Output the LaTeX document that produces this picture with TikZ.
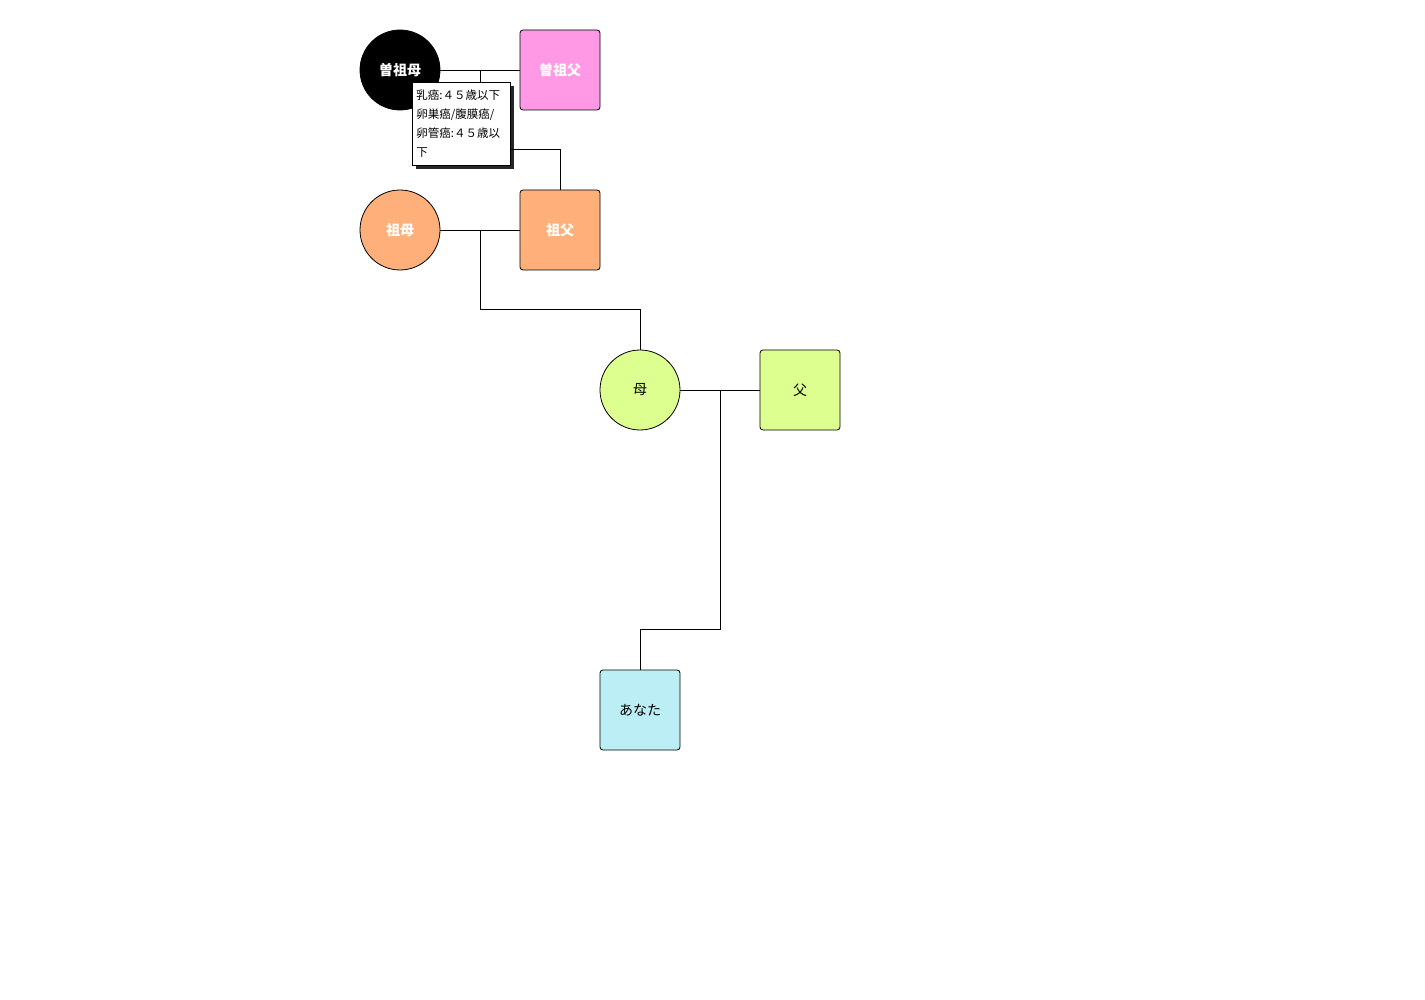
\documentclass[tikz,border=0pt]{standalone}
\usepackage{fontspec}
\setmainfont{Noto Sans CJK JP}
\usepackage{tikz}
\usetikzlibrary{positioning,calc,shadows}
\definecolor{pinkF}{RGB}{255,153,230}
\definecolor{orangeF}{RGB}{255,176,122}
\definecolor{limeF}{RGB}{221,255,143}
\definecolor{blueF}{RGB}{187,238,245}
\tikzset{
	fem/.style={circle,draw=black,line width=0.8pt,minimum size=80pt,inner sep=0pt,font=\fontsize{14}{16}\selectfont},
	male/.style={rectangle,rounded corners=3pt,draw=black,line width=0.8pt,minimum size=80pt,inner sep=0pt,font=\fontsize{14}{16}\selectfont},
	blanc/.style={text=white,font=\fontsize{14}{16}\selectfont\bfseries},
	lien/.style={line width=0.8pt},
	notebox/.style={rectangle,draw=black,fill=white,line width=0.8pt,anchor=north west,align=left,
		inner xsep=4pt,inner ysep=3pt,minimum width=98pt,minimum height=83pt,text width=90pt,
		font=\fontsize{11.5}{19}\selectfont,drop shadow={shadow xshift=4pt,shadow yshift=-4pt,fill=black,opacity=0.85}}
}

\begin{document}
\begin{tikzpicture}[x=1pt,y=-1pt]
	\useasboundingbox (0,0) rectangle (1425,1000);
	
	%Arriere-grands-parents
	\node[fem,fill=black,blanc] (ssb) at (400,70) {曽祖母};
	\node[male,fill=pinkF,blanc] (ssf) at (560,70) {曽祖父};
	
	%Grands-parents
	\node[fem,fill=orangeF,blanc] (sb) at (400,230) {祖母};
	\node[male,fill=orangeF,blanc] (sf) at (560,230) {祖父};
	
	%Parents
	\node[fem,fill=limeF] (mere) at (640,390) {母};
	\node[male,fill=limeF] (pere) at (800,390) {父};
	
	%Enfant
	\node[male,fill=blueF] (anata) at (640,710) {あなた};
	
	%Liens
	\draw[lien] (ssb.east) -- (ssf.west);
	\coordinate (m1) at ($(ssb.east)!0.5!(ssf.west)$);
	\coordinate (c1) at ([yshift=40pt]sf.north);
	\draw[lien] (m1) |- (c1) -- (sf.north);
	
	\draw[lien] (sb.east) -- (sf.west);
	\coordinate (m2) at ($(sb.east)!0.5!(sf.west)$);
	\coordinate (c2) at ([yshift=40pt]mere.north);
	\draw[lien] (m2) |- (c2) -- (mere.north);
	
	\draw[lien] (mere.east) -- (pere.west);
	\coordinate (m3) at ($(mere.east)!0.5!(pere.west)$);
	\coordinate (c3) at ([yshift=40pt]anata.north);
	\draw[lien] (m3) |- (c3) -- (anata.north);
	
	%Note
	\node[notebox] (note) at (412,82) {乳癌:４５歳以下\\卵巣癌/腹膜癌/\\卵管癌:４５歳以\\下};
	
\end{tikzpicture}
\end{document}
